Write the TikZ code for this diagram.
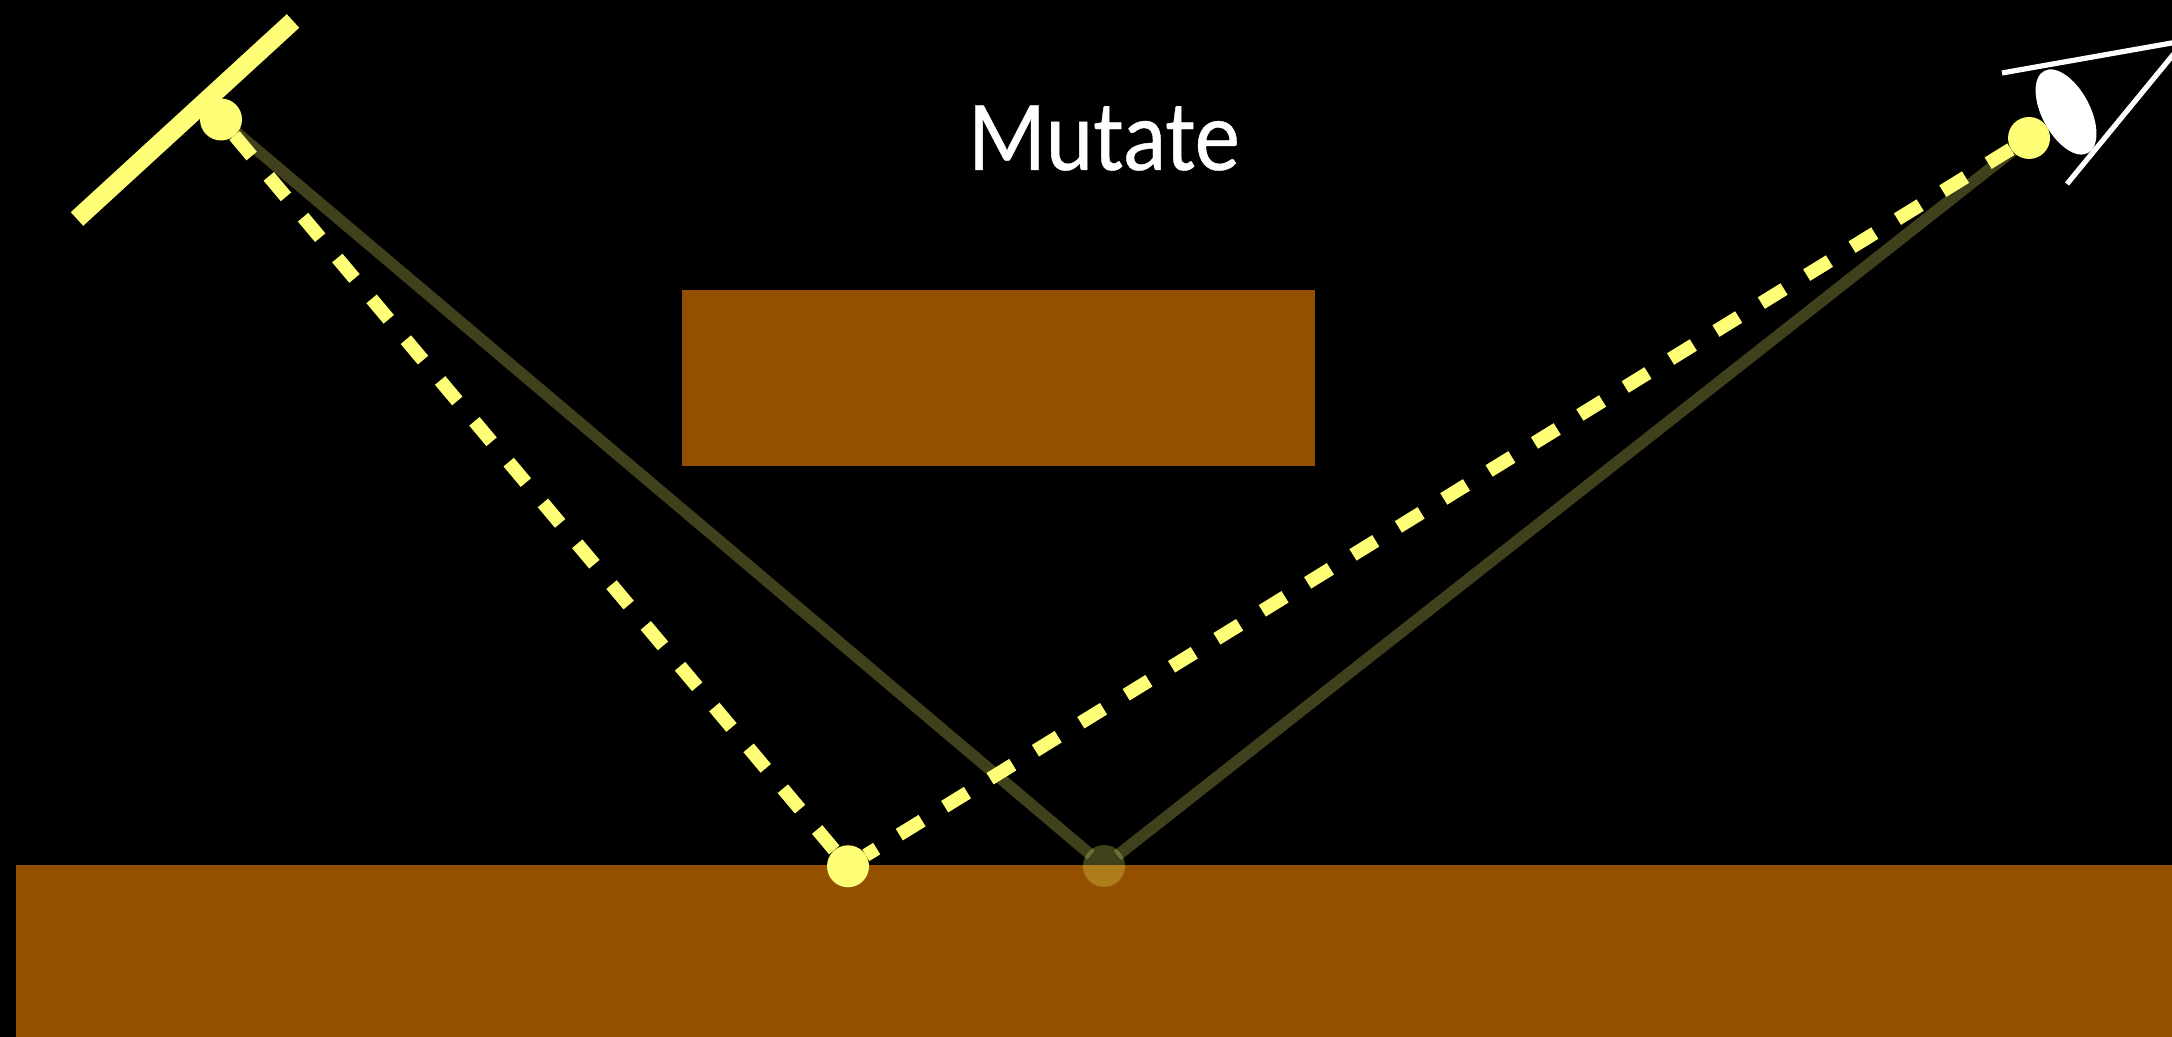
\documentclass[tikz,border=0pt]{standalone}
\usepackage{fontspec}
\usepackage{xcolor}
\setmainfont[FakeStretch=0.9,FakeBold=0.4]{Carlito}
\usetikzlibrary{positioning,shapes.geometric}
\definecolor{raylight}{HTML}{FFFF77}
\definecolor{wallbrown}{HTML}{944F00}

\begin{document}
\begin{tikzpicture}[
  node distance=1cm,
  surface/.style={rectangle, fill=wallbrown, inner sep=0pt, outer sep=0pt},
  vertex/.style={circle, fill=raylight, minimum size=0.42cm, inner sep=0pt, outer sep=0pt},
  oldvertex/.style={vertex, fill opacity=0.25},
  oldpath/.style={draw=raylight, opacity=0.25, line width=0.115cm},
  newpath/.style={draw=raylight, line width=0.135cm, dash pattern=on 0.267cm off 0.266cm},
  lightbar/.style={draw=raylight, line width=0.184cm},
  eyeline/.style={draw=white, line width=0.052cm}
]

% Background
\fill[black] (0,0) rectangle (21.72,10.37);
\useasboundingbox (0,0) rectangle (21.72,10.37);

% Geometry
\node[surface, anchor=south east, minimum width=21.56cm, minimum height=1.72cm] (floor) at (21.72,0) {};
\node[surface, anchor=north west, minimum width=6.33cm, minimum height=1.76cm] (block) at (6.82,7.47) {};

% Title
\node[text=white, anchor=base, font=\fontsize{28.7}{32}\selectfont] (title) at (11.04,8.67) {Mutate};

% Old path
\node[oldvertex] (mirror) at (11.04,1.71) {};
\coordinate (lightpos) at (2.21,9.175);
\coordinate (viewpos) at (20.29,8.99);
\draw[oldpath, shorten >=0.17cm] (lightpos) -- (mirror.center);
\draw[oldpath, shorten <=0.17cm] (mirror.center) -- (viewpos);

% Light
\coordinate (barA) at (2.93,10.16);
\coordinate (barB) at (0.77,8.18);
\draw[lightbar] (barA) -- (barB);

% Eye
\coordinate (lidA) at (20.02,9.64);
\coordinate (lidB) at (22.00,9.99);
\coordinate (lidC) at (20.67,8.53);
\coordinate (lidD) at (22.00,10.15);
\draw[eyeline] (lidA) -- (lidB);
\draw[eyeline] (lidC) -- (lidD);
\node[ellipse, fill=white, inner sep=0pt, minimum width=0.93cm, minimum height=0.48cm, rotate=-62] (lens) at (20.66,9.25) {};

% New path
\node[vertex] (light) at (lightpos) {};
\node[vertex] (hit) [on grid, below right=7.468cm and 6.27cm of light] {};
\node[vertex] (view) at (viewpos) {};
\draw[newpath] (light) -- (hit);
\draw[newpath, dash phase=0.14cm] (hit) -- (view);

\end{tikzpicture}
\end{document}
